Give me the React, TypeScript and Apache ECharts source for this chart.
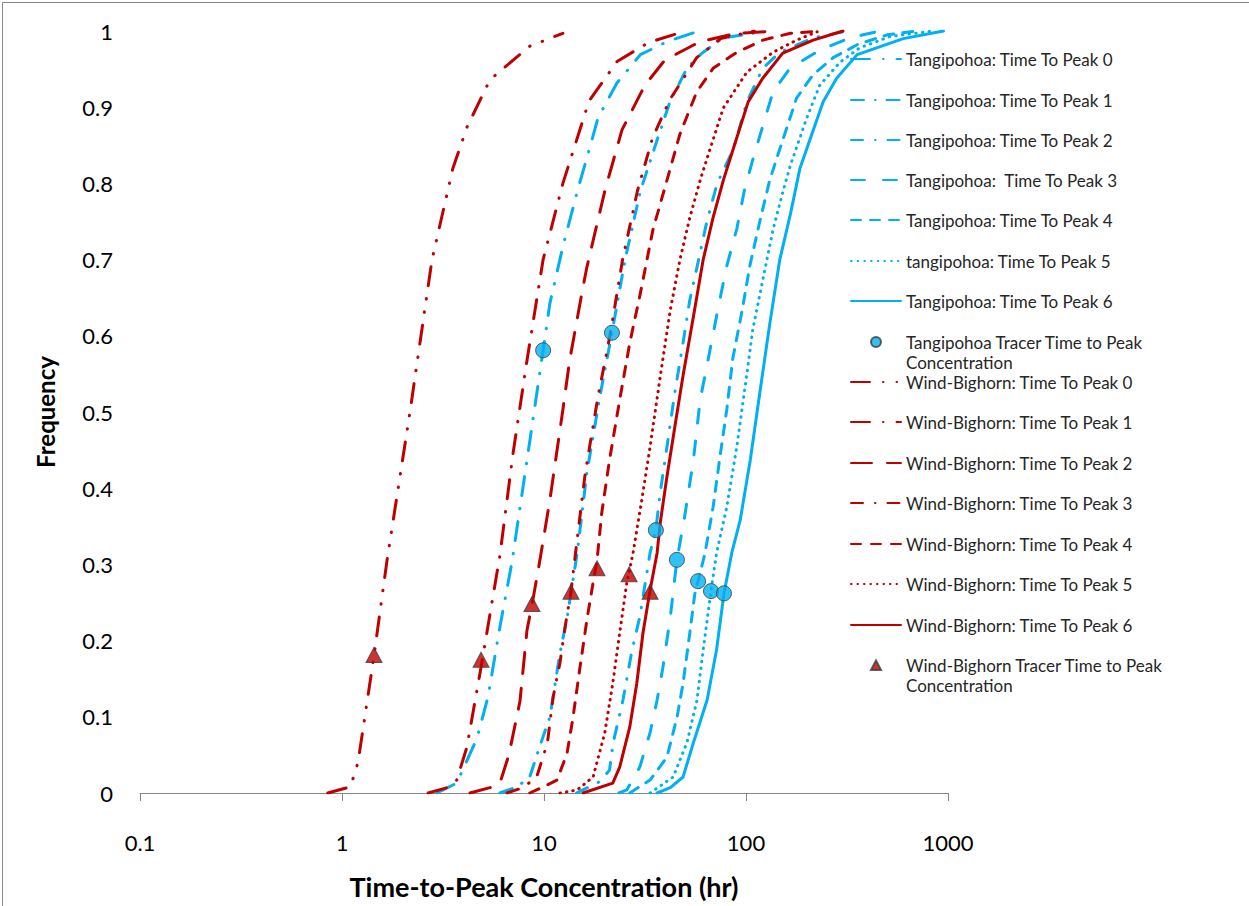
import React, { useEffect, useRef } from 'react';
import * as echarts from 'echarts';

const BLUE = '#00B0F0';
const RED = '#C00000';
const FONT = 'Lato, "Open Sans", sans-serif';

// ---- Tangipohoa CDF curves: [hours, frequency]
const tangi0: [number, number][] = [[2.95, 0], [3.7, 0.013], [4.66, 0.072], [5.28, 0.126], [6.05, 0.218], [6.94, 0.303], [8.24, 0.437], [9.9, 0.581], [10.7, 0.643], [12.4, 0.717], [14.7, 0.792], [16.9, 0.848], [18.5, 0.886], [23, 0.932], [30, 0.969], [40.6, 0.986], [57, 0.999]];
const tangi1: [number, number][] = [[6.05, 0], [7.35, 0.008], [8.5, 0.021], [9.5, 0.06], [10.7, 0.1], [12, 0.184], [13, 0.229], [14.6, 0.315], [16.3, 0.42], [18.9, 0.52], [21.7, 0.604], [25.2, 0.7], [30, 0.79], [36, 0.854], [42, 0.907], [51, 0.951], [60, 0.97], [77, 0.991], [121, 0.999]];
const tangi2: [number, number][] = [[14.5, 0], [18.9, 0.015], [21.1, 0.03], [22, 0.066], [24.6, 0.122], [27.3, 0.188], [29.8, 0.231], [33.5, 0.315], [35.8, 0.346], [37.6, 0.394], [40.6, 0.454], [44.4, 0.525], [48.8, 0.591], [52.7, 0.647], [57.2, 0.69], [64, 0.75], [72, 0.8], [86.6, 0.845], [101, 0.907], [121, 0.951], [147, 0.972], [215, 0.991], [317, 1.0]];
const tangi3: [number, number][] = [[23.5, 0], [25.7, 0.004], [29.8, 0.034], [33.5, 0.079], [36.3, 0.122], [38.8, 0.165], [42.2, 0.231], [45.5, 0.306], [49.5, 0.36], [54.9, 0.437], [59.3, 0.516], [64.2, 0.562], [73, 0.638], [80, 0.69], [90, 0.74], [98, 0.79], [108.5, 0.833], [136, 0.92], [165, 0.951], [232, 0.975], [327, 0.991], [460, 1.0]];
const tangi4: [number, number][] = [[26.6, 0], [33.5, 0.017], [40.6, 0.047], [45.6, 0.1], [48.8, 0.144], [52.7, 0.21], [55.7, 0.26], [57.9, 0.278], [62.7, 0.315], [68.7, 0.375], [74.3, 0.441], [80.3, 0.503], [86, 0.57], [95.5, 0.632], [104.7, 0.693], [117, 0.75], [131, 0.804], [142, 0.833], [178, 0.912], [214, 0.942], [270, 0.965], [355, 0.982], [500, 0.995], [700, 1.0]];
const tangi5: [number, number][] = [[33.5, 0], [43.6, 0.021], [51, 0.066], [57.2, 0.122], [61.4, 0.188], [67.1, 0.265], [71.5, 0.315], [80.3, 0.375], [90, 0.454], [101, 0.55], [108, 0.608], [121, 0.673], [136, 0.739], [153, 0.791], [166, 0.824], [200, 0.886], [232, 0.929], [292, 0.959], [366, 0.978], [520, 0.993], [850, 1.0]];
const tangi6: [number, number][] = [[36.3, 0], [42.2, 0.007], [48.8, 0.021], [54.9, 0.066], [64.2, 0.122], [71.5, 0.188], [77.8, 0.262], [85, 0.315], [93.6, 0.358], [105, 0.437], [117, 0.525], [131, 0.615], [147, 0.7], [166, 0.76], [185, 0.82], [241, 0.907], [281, 0.938], [355, 0.969], [600, 0.99], [950, 1.0]];

// ---- Wind-Bighorn CDF curves
const wind0: [number, number][] = [[0.85, 0], [1.1, 0.008], [1.2, 0.04], [1.44, 0.18], [1.67, 0.305], [2.17, 0.5], [2.79, 0.7], [3.54, 0.82], [4.16, 0.874], [5.4, 0.936], [8.5, 0.98], [12.4, 0.997]];
const wind1: [number, number][] = [[2.67, 0], [3.42, 0.008], [3.7, 0.017], [4.15, 0.06], [4.93, 0.172], [6.05, 0.312], [7.03, 0.446], [8.24, 0.568], [9.9, 0.7], [12.4, 0.8], [16.7, 0.908], [23, 0.96], [33, 0.985], [49, 0.999]];
const wind2: [number, number][] = [[4.3, 0], [5.4, 0.007], [6.05, 0.013], [6.7, 0.05], [7.6, 0.12], [8.24, 0.214], [8.72, 0.247], [9.55, 0.306], [10.7, 0.385], [12.4, 0.503], [13.4, 0.568], [15.4, 0.656], [16.3, 0.69], [20, 0.79], [24.3, 0.87], [31.6, 0.929], [39.7, 0.962], [59.2, 0.986], [90, 0.997], [147, 1.0]];
const wind3: [number, number][] = [[6.56, 0], [7.87, 0.007], [9.2, 0.021], [10.4, 0.066], [11.1, 0.126], [12, 0.171], [12.7, 0.217], [13.6, 0.264], [14.4, 0.32], [16, 0.42], [18.5, 0.52], [21.2, 0.6], [24.5, 0.7], [29, 0.79], [34.5, 0.86], [42, 0.91], [57, 0.965], [75, 0.99], [110, 1.0]];
const wind4: [number, number][] = [[8.5, 0], [9.9, 0.008], [11.6, 0.017], [13, 0.052], [13.9, 0.098], [15, 0.161], [16.3, 0.227], [17.5, 0.276], [18.3, 0.305], [19.3, 0.367], [21.1, 0.437], [23.7, 0.516], [26.6, 0.591], [30, 0.656], [34.6, 0.739], [40.6, 0.804], [47, 0.864], [57, 0.92], [68.7, 0.951], [90, 0.972], [121, 0.988], [166, 0.997], [232, 1.0]];
const wind5: [number, number][] = [[12, 0], [14.6, 0.004], [17.5, 0.021], [20, 0.079], [21.9, 0.144], [23.7, 0.21], [25.7, 0.276], [27.6, 0.315], [30.5, 0.385], [33.5, 0.454], [37.6, 0.546], [42.2, 0.634], [47.1, 0.7], [52.7, 0.755], [59.3, 0.804], [64.2, 0.833], [77.2, 0.899], [101, 0.946], [136, 0.972], [178, 0.988], [225, 0.999]];
const wind6: [number, number][] = [[15.6, 0], [21.9, 0.013], [23.7, 0.034], [26.6, 0.087], [28.8, 0.144], [30.9, 0.21], [33.5, 0.266], [36.3, 0.315], [37.6, 0.354], [40.6, 0.415], [44.4, 0.48], [48.8, 0.548], [54.9, 0.625], [61.4, 0.7], [68.7, 0.755], [77.2, 0.804], [83.6, 0.833], [102.5, 0.907], [121, 0.938], [152, 0.971], [215, 0.988], [302, 1.0]];

// ---- Tracer observations
const tangiTracerHours = [9.9, 21.7, 35.8, 45.5, 57.9, 67.1, 77.8];
const tangiTracerFreq = [0.581, 0.604, 0.345, 0.306, 0.278, 0.265, 0.262];
const windTracerHours = [1.44, 4.88, 8.72, 13.6, 18.3, 26.4, 33.5];
const windTracerFreq = [0.181, 0.175, 0.248, 0.264, 0.295, 0.287, 0.264];

const tangiNames = ['Tangipohoa: Time To Peak 0', 'Tangipohoa: Time To Peak 1', 'Tangipohoa: Time To Peak 2', 'Tangipohoa:  Time To Peak 3', 'Tangipohoa: Time To Peak 4', 'tangipohoa: Time To Peak 5', 'Tangipohoa: Time To Peak 6'];
const windNames = ['Wind-Bighorn: Time To Peak 0', 'Wind-Bighorn: Time To Peak 1', 'Wind-Bighorn: Time To Peak 2', 'Wind-Bighorn: Time To Peak 3', 'Wind-Bighorn: Time To Peak 4', 'Wind-Bighorn: Time To Peak 5', 'Wind-Bighorn: Time To Peak 6'];
const tangiTracerName = 'Tangipohoa Tracer Time to Peak Concentration';
const windTracerName = 'Wind-Bighorn Tracer Time to Peak Concentration';

const xTickLabels = ['0.1', '1', '10', '100', '1000'];
const yTickLabels = ['0', '0.1', '0.2', '0.3', '0.4', '0.5', '0.6', '0.7', '0.8', '0.9', '1'];

const tangiData = [tangi0, tangi1, tangi2, tangi3, tangi4, tangi5, tangi6];
const windData = [wind0, wind1, wind2, wind3, wind4, wind5, wind6];

// dash patterns (round caps, width 3)
const tangiDash: any[] = [[19, 13, 0.5, 13], [13, 11, 0.5, 11], [12, 12, 0.5, 12], [14, 18], [10, 9], [0.5, 6.2], 'solid'];
const windDash: any[] = [[19, 13, 0.5, 13, 0.5, 13], [19, 13, 0.5, 13], [21, 15], [12, 12, 0.5, 12], [10, 10], [0.5, 6], 'solid'];

// legend icons for the tracer markers (50 x 10 box, marker centred)
const circleIcon = 'path://M0,0L0,0M30,5A5,5,0,1,1,20,5A5,5,0,1,1,30,5ZM50,10L50,10';
const triangleIcon = 'path://M0,0L0,0M20,10L25,0.5L30,10ZM50,10L50,10';

function lineSeries(name: string, data: [number, number][], color: string, dash: any) {
  return {
    name,
    type: 'line',
    data,
    symbol: 'none',
    showSymbol: false,
    smooth: false,
    lineStyle: { color, width: 3, type: dash, cap: 'round', join: 'round' },
    itemStyle: { color },
    z: 2,
  };
}

export default function App() {
  const ref = useRef<HTMLDivElement>(null);
  useEffect(() => {
    if (!ref.current) return;
    const chart = echarts.init(ref.current, undefined, { renderer: 'svg' });

    const series: any[] = [];
    tangiNames.forEach((n, i) => series.push(lineSeries(n, tangiData[i], BLUE, tangiDash[i])));
    series.push({
      name: tangiTracerName,
      type: 'scatter',
      data: tangiTracerHours.map((h, i) => [h, tangiTracerFreq[i]]),
      symbol: 'circle',
      symbolSize: 15,
      itemStyle: { color: BLUE, borderColor: '#3c3c3c', borderWidth: 1 },
      z: 3,
    });
    windNames.forEach((n, i) => series.push(lineSeries(n, windData[i], RED, windDash[i])));
    series.push({
      name: windTracerName,
      type: 'scatter',
      data: windTracerHours.map((h, i) => [h, windTracerFreq[i]]),
      symbol: 'triangle',
      symbolSize: [16, 15],
      itemStyle: { color: RED, borderColor: '#3c3c3c', borderWidth: 1 },
      z: 3,
    });

    const legendNames = [...tangiNames, tangiTracerName, ...windNames, windTracerName];
    const legendY = [59, 100, 140, 180, 220, 261, 301, 342, 382, 422, 463, 503, 544, 584, 625, 665];
    const legends = legendNames.map((name, i) => {
      const tracer = name === tangiTracerName || name === windTracerName;
      const base: any = {
        show: true,
        orient: 'vertical',
        left: 850,
        padding: 0,
        itemGap: 0,
        itemWidth: 50,
        selectedMode: false,
        textStyle: {
          fontFamily: FONT,
          fontSize: 17,
          color: '#262626',
          lineHeight: 20,
        },
      };
      if (tracer) {
        return {
          ...base,
          top: legendY[i] - 30,
          itemHeight: 10,
          data: [{ name, icon: name === tangiTracerName ? circleIcon : triangleIcon }],
          formatter: (n: string) => '\n' + n.replace(' Concentration', '\nConcentration'),
        };
      }
      return {
        ...base,
        top: legendY[i] - 10,
        itemHeight: 14,
        itemStyle: { opacity: 0 },
        data: [name],
      };
    });

    chart.setOption({
      animation: false,
      backgroundColor: '#ffffff',
      grid: { left: 140, right: 301, top: 31, bottom: 113, containLabel: false },
      legend: legends,
      xAxis: {
        type: 'log',
        logBase: 10,
        min: 0.1,
        max: 1000,
        name: 'Time-to-Peak Concentration (hr)',
        nameLocation: 'middle',
        nameGap: 80,
        nameTextStyle: { fontFamily: FONT, fontSize: 27, fontWeight: 'bold', color: '#000' },
        axisLine: { show: true, lineStyle: { color: '#868686', width: 1 } },
        axisTick: { show: true, length: 8, lineStyle: { color: '#868686' } },
        minorTick: { show: false },
        splitLine: { show: false },
        axisLabel: {
          margin: 38,
          fontFamily: FONT,
          fontSize: 22,
          color: '#000',
          formatter: (v: number) => {
            const idx = Math.round(Math.log10(v)) + 1;
            return xTickLabels[idx] ?? String(v);
          },
        },
      },
      yAxis: {
        type: 'value',
        min: 0,
        max: 1,
        interval: 0.1,
        name: 'Frequency',
        nameLocation: 'middle',
        nameGap: 83,
        nameTextStyle: { fontFamily: FONT, fontSize: 24, fontWeight: 'bold', color: '#000' },
        axisLine: { show: false },
        axisTick: { show: false },
        splitLine: { show: false },
        axisLabel: {
          margin: 27,
          fontFamily: FONT,
          fontSize: 22,
          color: '#000',
          formatter: (v: number) => yTickLabels[Math.round(v * 10)] ?? String(v),
        },
      },
      graphic: [
        {
          type: 'rect',
          left: 0,
          top: 0,
          shape: { x: 0.5, y: 0.5, width: 1247, height: 904 },
          style: { fill: 'none', stroke: '#868686', lineWidth: 1 },
          silent: true,
        },
      ],
      series,
    });
    return () => chart.dispose();
  }, []);
  return (
    <div
      ref={ref}
      style={{ position: 'fixed', left: 0, top: 0, width: 1249, height: 906, background: '#fff' }}
    />
  );
}
